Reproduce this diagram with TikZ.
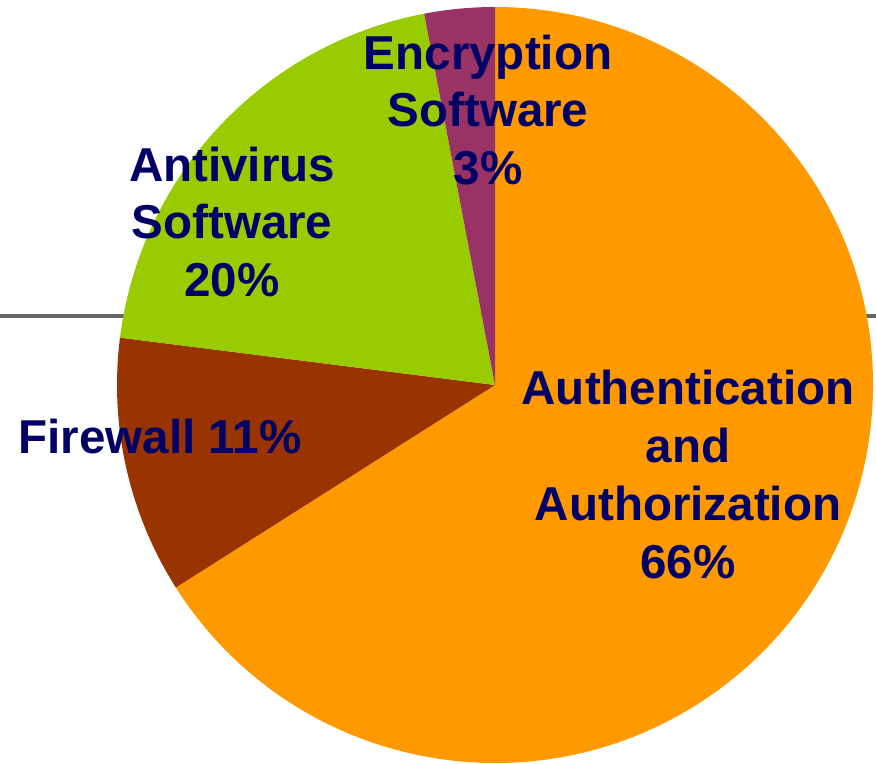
\documentclass[tikz,border=0pt]{standalone}
\usepackage{fontspec}
\setmainfont{Liberation Sans}
\usetikzlibrary{calc}
\definecolor{authorange}{HTML}{FF9900}
\definecolor{firebrown}{HTML}{993300}
\definecolor{virusgreen}{HTML}{99CC00}
\definecolor{cryptpurple}{HTML}{993366}
\definecolor{labelnavy}{HTML}{000066}
\definecolor{axisgray}{HTML}{666666}
\begin{document}
\begin{tikzpicture}[
    x=0.025cm, y=0.025cm,
    every node/.append style = {font=\fontsize{33.8}{41.2}\selectfont\bfseries,
      text=labelnavy, align=center, inner sep=0pt}
  ]
  \useasboundingbox (0,0) rectangle (876,764);
  \coordinate (centre) at (495,379);
  \draw[axisgray, line width=2.8pt] (0,448) -- (876,448);
  % slices, counter-clockwise from start to end angle
  \foreach \from/\to/\col in {-147.6/90/authorange, 172.8/212.4/firebrown,
      100.8/172.8/virusgreen, 90/100.8/cryptpurple} {
    \fill[\col] (centre) -- ++(\from:378)
      arc[start angle=\from, end angle=\to, radius=378] -- cycle;
  }
  \node (crypt) at (488,654) {Encryption\\Software\\3\%};
  \node (virus) at (232,542) {Antivirus\\Software\\20\%};
  \node (fire) at (160,327) {Firewall 11\%};
  \node (auth) at (688,289.5) {Authentication\\and\\Authorization\\66\%};
\end{tikzpicture}
\end{document}
